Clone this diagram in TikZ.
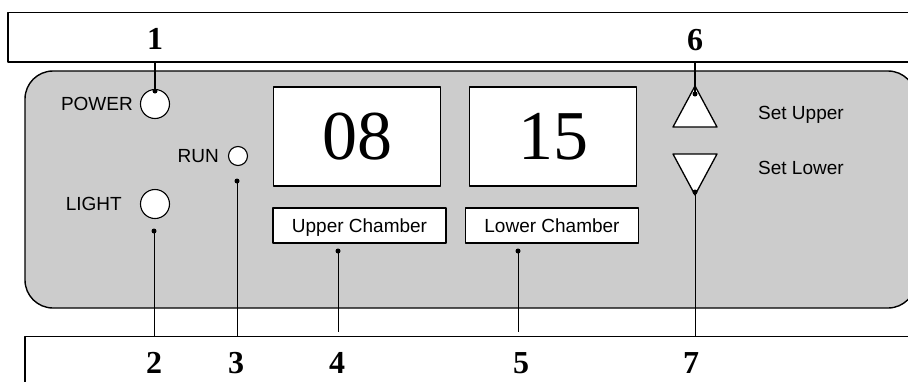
\documentclass[tikz,border=0pt]{standalone}
\usepackage{fontspec}
\setmainfont{Liberation Serif}
\setsansfont{Liberation Sans}
\begin{document}
\begin{tikzpicture}[x=1pt,y=-1pt,line join=round,
			callout/.style={font=\fontsize{32}{32}\selectfont\bfseries,inner sep=0},
			paneltext/.style={font=\sffamily\fontsize{19}{19}\selectfont,text height=13.6pt,text depth=0pt,inner sep=0},
			lamp/.style={circle,draw,fill=white,line width=1.1pt,inner sep=0},
			display/.style={draw,fill=white,line width=1.4pt,minimum width=167pt,minimum height=99pt,inner sep=0,
				font=\fontsize{70}{70}\selectfont},
			namebox/.style={draw,fill=white,line width=1.2pt,minimum width=173pt,minimum height=35pt,inner sep=0,
				font=\sffamily\fontsize{19}{19}\selectfont,text height=13.6pt,text depth=0pt},
			pin/.style={circle,fill,inner sep=0,minimum size=5pt},
			lead/.style={line width=0.9pt},
			boldlead/.style={line width=1.6pt}]
			\useasboundingbox (0,0) rectangle (908,381);
			% frames
			\draw[line width=1.1pt] (920,12.5) -- (8,12.5) -- (8,62) -- (920,62);
			\draw[line width=1.1pt] (920,336.5) -- (25,336.5) -- (25,400);
			\draw[fill=black!20,line width=1.4pt,rounded corners=28pt] (25,71) rectangle (916,308);
			% lamps
			\node[lamp,minimum size=29pt] (power) at (155,104) {};
			\node[lamp,minimum size=29pt] (light) at (155,204) {};
			\node[lamp,minimum size=19pt] (run) at (238,156) {};
			\node[paneltext,anchor=east] (powerlabel) at (133,104) {POWER};
			\node[paneltext,anchor=east] (lightlabel) at (122,204) {LIGHT};
			\node[paneltext,anchor=east] (runlabel) at (219,156) {RUN};
			% displays
			\node[display] (upper) at (357,136.5) {08};
			\node[display] (lower) at (553,136.5) {15};
			\node[namebox] (uppername) at (359.5,225.5) {Upper Chamber};
			\node[namebox] (lowername) at (552,225.5) {Lower Chamber};
			% buttons
			\draw[fill=white,line width=1.3pt] (695,86) coordinate (upapex) -- (717,127) -- (673,127) -- cycle;
			\draw[fill=white,line width=1.3pt] (673,154) -- (717,154) -- (695,195) coordinate (downapex) -- cycle;
			\node[paneltext,anchor=west] (setupper) at (758,112.7) {Set Upper};
			\node[paneltext,anchor=west] (setlower) at (758,168) {Set Lower};
			% callout numbers
			\node[callout] (1) at (155,39) {1};
			\node[callout] (6) at (695,40) {6};
			\node[callout] (2) at (154,363) {2};
			\node[callout] (3) at (236,363) {3};
			\node[callout] (4) at (337,363) {4};
			\node[callout] (5) at (521,363) {5};
			\node[callout] (7) at (691,363) {7};
			% leader lines
			\node[pin] (p1) at (155,91) {};
			\node[pin] (p6) at (695,94) {};
			\node[pin] (p2) at (154,231) {};
			\node[pin] (p3) at (237,181) {};
			\node[pin] (p4) at (338,251) {};
			\node[pin] (p5) at (518,251) {};
			\node[pin] (p7) at (695,192) {};
			\coordinate (e1) at (155,62);
			\coordinate (e6) at (695,62);
			\coordinate (e2) at (154,337);
			\coordinate (e3) at (237,336);
			\coordinate (e4) at (338,332);
			\coordinate (e5) at (518,332);
			\coordinate (e7) at (695,337);
			\draw[boldlead] (e1) -- (p1.center);
			\draw[boldlead] (e6) -- (p6.center);
			\draw[lead] (p2.center) -- (e2);
			\draw[lead] (p3.center) -- (e3);
			\draw[lead] (p4.center) -- (e4);
			\draw[lead] (p5.center) -- (e5);
			\draw[lead] (p7.center) -- (e7);
		\end{tikzpicture}
\end{document}
